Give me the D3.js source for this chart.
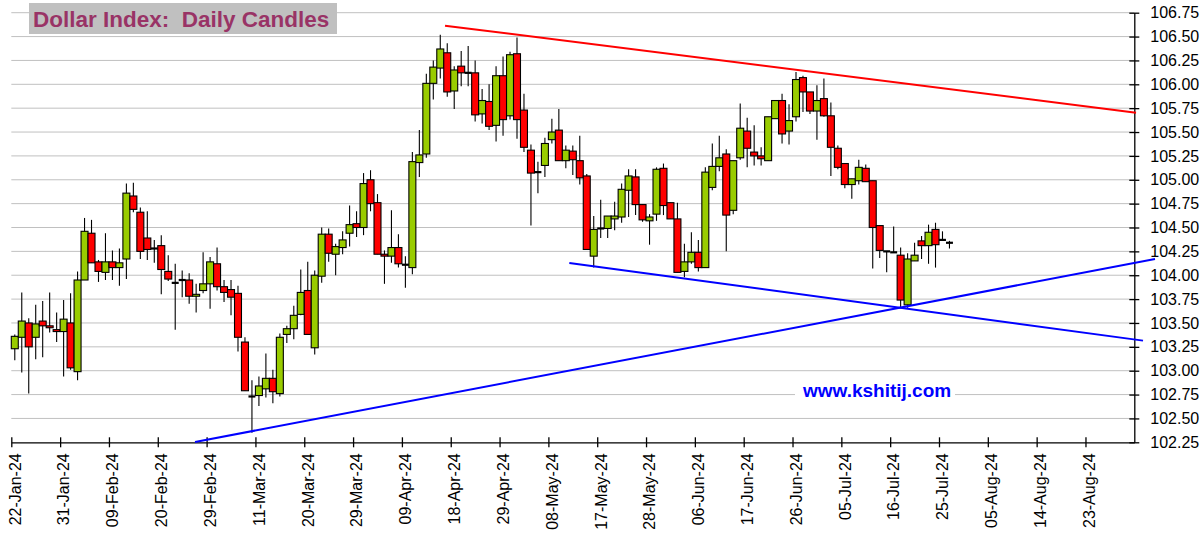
<!DOCTYPE html>
<html><head><meta charset="utf-8">
<script src="https://cdn.jsdelivr.net/npm/d3@7/dist/d3.min.js"></script>
<style>
body{margin:0;background:#fff;}
svg{display:block;font-family:"Liberation Sans",Arial,sans-serif;}
</style>
</head><body>
<svg id="chart" width="1203" height="546"></svg>
<script>
// ---- DATA ----
const dates = [
"2024-01-22","2024-01-23","2024-01-24","2024-01-25","2024-01-26","2024-01-29","2024-01-30","2024-01-31",
"2024-02-01","2024-02-02","2024-02-05","2024-02-06","2024-02-07","2024-02-08","2024-02-09","2024-02-12","2024-02-13","2024-02-14","2024-02-15","2024-02-16","2024-02-19","2024-02-20","2024-02-21","2024-02-22","2024-02-23","2024-02-26","2024-02-27","2024-02-28","2024-02-29",
"2024-03-01","2024-03-04","2024-03-05","2024-03-06","2024-03-07","2024-03-08","2024-03-11","2024-03-12","2024-03-13","2024-03-14","2024-03-15","2024-03-18","2024-03-19","2024-03-20","2024-03-21","2024-03-22","2024-03-25","2024-03-26","2024-03-27","2024-03-28","2024-03-29",
"2024-04-01","2024-04-02","2024-04-03","2024-04-04","2024-04-05","2024-04-08","2024-04-09","2024-04-10","2024-04-11","2024-04-12","2024-04-15","2024-04-16","2024-04-17","2024-04-18","2024-04-19","2024-04-22","2024-04-23","2024-04-24","2024-04-25","2024-04-26","2024-04-29","2024-04-30",
"2024-05-01","2024-05-02","2024-05-03","2024-05-06","2024-05-07","2024-05-08","2024-05-09","2024-05-10","2024-05-13","2024-05-14","2024-05-15","2024-05-16","2024-05-17","2024-05-20","2024-05-21","2024-05-22","2024-05-23","2024-05-24","2024-05-27","2024-05-28","2024-05-29","2024-05-30","2024-05-31",
"2024-06-03","2024-06-04","2024-06-05","2024-06-06","2024-06-07","2024-06-10","2024-06-11","2024-06-12","2024-06-13","2024-06-14","2024-06-17","2024-06-18","2024-06-19","2024-06-20","2024-06-21","2024-06-24","2024-06-25","2024-06-26","2024-06-27","2024-06-28",
"2024-07-01","2024-07-02","2024-07-03","2024-07-04","2024-07-05","2024-07-08","2024-07-09","2024-07-10","2024-07-11","2024-07-12","2024-07-15","2024-07-16","2024-07-17","2024-07-18","2024-07-19","2024-07-22","2024-07-23","2024-07-24","2024-07-25","2024-07-26"
];
const open = [
103.23,103.35,103.50,103.35,103.52,103.47,103.43,103.41,103.50,102.99,
103.95,104.44,104.14,104.03,104.14,104.08,104.17,104.83,104.66,104.39,
104.28,104.31,104.04,103.92,103.95,103.95,103.78,103.84,103.91,104.12,
103.88,103.85,103.81,103.30,102.73,102.74,102.81,102.92,102.76,103.38,
103.44,103.59,103.84,103.24,103.99,104.43,104.22,104.29,104.44,104.54,
104.50,105.00,104.76,104.22,104.20,104.29,104.11,104.08,105.18,105.27,
106.01,106.17,106.33,105.93,106.19,106.12,106.12,105.69,105.82,105.57,
106.09,105.67,106.32,105.73,105.31,105.08,105.15,105.42,105.52,105.20,
105.30,105.20,105.04,104.20,104.49,104.49,104.59,104.61,104.89,105.03,
104.74,104.57,104.64,105.12,104.76,104.59,104.04,104.14,104.24,104.08,
104.92,105.14,105.27,104.68,105.23,105.51,105.29,105.25,105.20,105.64,
105.83,105.51,105.66,106.07,105.92,105.72,105.85,105.67,105.33,105.17,
104.95,104.99,105.12,104.99,104.52,104.25,104.24,104.21,103.69,104.15,
104.36,104.31,104.48,104.37,104.34];
const high = [
103.38,103.82,103.55,103.69,103.73,103.82,103.61,103.74,103.81,104.04,
104.60,104.58,104.16,104.44,104.26,104.28,104.96,104.97,104.71,104.67,
104.37,104.42,104.21,104.12,104.05,104.02,103.91,104.24,104.19,104.29,
103.95,103.95,103.89,103.35,102.90,102.94,103.18,103.01,103.39,103.47,
103.68,104.06,104.14,104.05,104.50,104.49,104.33,104.46,104.73,104.67,
105.07,105.10,104.85,104.26,104.68,104.43,104.20,105.29,105.52,106.11,
106.25,106.52,106.43,106.19,106.35,106.40,106.25,105.95,106.00,106.19,
106.29,106.34,106.49,105.90,105.37,105.19,105.44,105.64,105.74,105.36,
105.36,105.46,105.06,104.62,104.79,104.62,104.77,104.96,105.11,105.11,
104.74,104.64,105.13,105.17,104.76,104.76,104.33,104.45,104.37,105.13,
105.38,105.46,105.32,105.20,105.80,105.65,105.57,105.34,105.66,105.83,
105.90,105.79,106.13,106.09,105.92,105.99,106.06,105.81,105.36,105.17,
105.01,105.21,105.16,104.99,104.52,104.25,104.51,104.29,104.23,104.34,
104.41,104.53,104.55,104.46,104.36];
const low = [
103.11,102.98,102.76,103.12,103.14,103.40,103.30,102.94,103.01,102.90,
103.95,104.13,103.93,103.95,103.95,103.89,103.96,104.66,104.17,104.16,
104.13,103.80,103.94,103.43,103.77,103.70,103.61,103.81,103.65,103.84,
103.72,103.58,103.20,102.79,102.35,102.63,102.72,102.66,102.73,103.29,
103.33,103.58,103.38,103.17,103.92,104.14,104.00,104.22,104.30,104.40,
104.42,104.67,104.22,103.91,104.13,104.08,103.87,104.01,105.03,105.23,
105.84,106.06,105.87,105.74,105.98,105.98,105.61,105.59,105.52,105.40,
105.46,105.63,105.43,105.29,104.52,104.86,105.03,105.38,105.20,105.12,
105.05,104.95,104.27,104.08,104.39,104.39,104.47,104.55,104.61,104.63,
104.56,104.32,104.57,104.63,104.59,104.03,103.98,104.12,104.04,104.08,
104.89,105.09,104.25,104.64,105.21,105.13,105.15,105.15,105.20,105.64,
105.38,105.37,105.61,105.71,105.69,105.42,105.66,105.04,105.11,104.91,
104.80,104.95,104.98,104.07,104.18,104.03,104.24,103.66,103.66,104.15,
104.17,104.12,104.08,104.37,104.28];
const close = [
103.36,103.52,103.25,103.49,103.47,103.45,103.41,103.54,103.03,103.95,
104.46,104.13,104.04,104.14,104.08,104.13,104.86,104.69,104.25,104.27,
104.28,104.06,103.96,103.92,103.95,103.78,103.80,103.91,104.14,103.88,
103.82,103.77,103.35,102.79,102.73,102.84,102.92,102.78,103.35,103.44,
103.58,103.82,103.38,104.00,104.43,104.23,104.30,104.37,104.53,104.50,
104.96,104.75,104.22,104.20,104.29,104.12,104.11,105.19,105.26,106.01,
106.18,106.37,105.92,106.15,106.12,106.12,105.68,105.83,105.56,106.09,
105.63,106.31,105.63,105.34,105.07,105.08,105.38,105.50,105.20,105.31,
105.21,105.02,104.27,104.48,104.49,104.62,104.62,104.90,105.04,104.74,
104.58,104.61,105.11,104.73,104.59,104.03,104.14,104.24,104.08,105.08,
105.14,105.23,104.63,105.20,105.54,105.33,105.25,105.22,105.66,105.83,
105.48,105.62,106.05,105.92,105.72,105.83,105.67,105.34,105.13,104.95,
105.01,105.13,104.98,104.50,104.26,104.25,104.24,103.74,104.17,104.21,
104.31,104.45,104.32,104.37,104.34];

// x-axis tick labels (every 7th trading day) and y-axis ticks
const xTickLabels = ["22-Jan-24","31-Jan-24","09-Feb-24","20-Feb-24","29-Feb-24","11-Mar-24","20-Mar-24","29-Mar-24",
  "09-Apr-24","18-Apr-24","29-Apr-24","08-May-24","17-May-24","28-May-24","06-Jun-24","17-Jun-24","26-Jun-24",
  "05-Jul-24","16-Jul-24","25-Jul-24","05-Aug-24","14-Aug-24","23-Aug-24"];
const yTickValues = [102.25,102.50,102.75,103.00,103.25,103.50,103.75,104.00,104.25,104.50,104.75,105.00,105.25,105.50,105.75,106.00,106.25,106.50,106.75];
const totalSlots = 161; // trading-day slots shown on the axis

// trend lines: [slot index, value]
const redLine = [[62.18,106.614],[161.25,105.703]];
const blueLineDown = [[80.0,104.129],[162.25,103.315]];
const blueLineUp = [[26.34,102.253],[163.97,104.17]];

const titleText = "Dollar Index:  Daily Candles";
const watermark = "www.kshitij.com";

// ---- CHART ----
const svg = d3.select("#chart");
const x = d3.scaleLinear().domain([0, totalSlots]).range([11.3, 1134.3]);
const y = d3.scaleLinear().domain([102.25, 106.75]).range([442.3, 12.7]);

// gridlines
svg.append("g").selectAll("line").data(yTickValues.slice(1)).join("line")
  .attr("x1", x(0)).attr("x2", x(totalSlots))
  .attr("y1", d => y(d)).attr("y2", d => y(d))
  .attr("stroke", "#c0c0c0").attr("stroke-width", 1);

// candles
const candles = dates.map((d, i) => ({date: d, i, o: open[i], h: high[i], l: low[i], c: close[i]}));
const cg = svg.append("g");
cg.selectAll("line.wick").data(candles).join("line").attr("class","wick")
  .attr("x1", d => x(d.i + 0.5)).attr("x2", d => x(d.i + 0.5))
  .attr("y1", d => y(d.h)).attr("y2", d => y(d.l))
  .attr("stroke", "#000").attr("stroke-width", 1.1);
cg.selectAll("rect.body").data(candles.filter(d => Math.abs(d.c - d.o) >= 0.015)).join("rect").attr("class","body")
  .attr("x", d => x(d.i)).attr("width", d => x(d.i + 1) - x(d.i))
  .attr("y", d => y(Math.max(d.o, d.c)))
  .attr("height", d => Math.max(1, y(Math.min(d.o, d.c)) - y(Math.max(d.o, d.c))))
  .attr("fill", d => d.c > d.o ? "#99cc00" : "#ff0000")
  .attr("stroke", "#000").attr("stroke-width", 1.1);
cg.selectAll("line.doji").data(candles.filter(d => Math.abs(d.c - d.o) < 0.015)).join("line").attr("class","doji")
  .attr("x1", d => x(d.i)).attr("x2", d => x(d.i + 1))
  .attr("y1", d => y(d.c)).attr("y2", d => y(d.c))
  .attr("stroke", "#000").attr("stroke-width", 2.2);

// axes
const xAxis = d3.axisBottom(x)
  .tickValues(xTickLabels.map((_, k) => k * 7))
  .tickFormat((d, k) => xTickLabels[k])
  .tickSize(5).tickSizeOuter(0);
const gx = svg.append("g").attr("transform", `translate(0,${y(102.25)})`).call(xAxis);
gx.select(".domain").attr("stroke", "#000").attr("stroke-width", 1.3);
gx.selectAll(".tick line").attr("y1", -5).attr("stroke", "#000").attr("stroke-width", 1.3);
gx.selectAll(".tick text")
  .attr("transform", "rotate(-90)")
  .attr("x", -11).attr("y", 0).attr("dy", "0.55em")
  .style("text-anchor", "end")
  .attr("fill", "#000").style("font-size", "16px").style("font-family", "'Liberation Sans', Arial, sans-serif");

const yAxis = d3.axisRight(y).tickValues(yTickValues).tickFormat(d3.format(".2f"))
  .tickSize(5).tickPadding(11).tickSizeOuter(0);
const gy = svg.append("g").attr("transform", `translate(${x(totalSlots)},0)`).call(yAxis);
gy.select(".domain").attr("stroke", "#000").attr("stroke-width", 1.3);
gy.selectAll(".tick line").attr("x1", -5).attr("stroke", "#000").attr("stroke-width", 1.3);
gy.selectAll(".tick text").attr("fill", "#000")
  .style("font-size", "16px").style("font-family", "'Liberation Sans', Arial, sans-serif");

// trend lines
const lineGen = d3.line().x(d => x(d[0])).y(d => y(d[1]));
[[redLine, "#ff0000"], [blueLineDown, "#0000ff"], [blueLineUp, "#0000ff"]].forEach(([pts, col]) => {
  svg.append("path").attr("d", lineGen(pts)).attr("fill", "none")
    .attr("stroke", col).attr("stroke-width", 2);
});

// title
svg.append("rect").attr("x", 29).attr("y", 3).attr("width", 308).attr("height", 31).attr("fill", "#c0c0c0");
svg.append("text").attr("x", 33).attr("y", 27).text(titleText)
  .attr("fill", "#993366").style("font-weight", "bold").style("font-size", "22.5px")
  .style("white-space", "pre").attr("xml:space", "preserve");

// watermark
svg.append("rect").attr("x", 795).attr("y", 381).attr("width", 160).attr("height", 22).attr("fill", "#fff");
svg.append("text").attr("x", 803).attr("y", 397).text(watermark)
  .attr("fill", "#0000ff").style("font-weight", "bold").style("font-size", "19px");
</script>
</body></html>
